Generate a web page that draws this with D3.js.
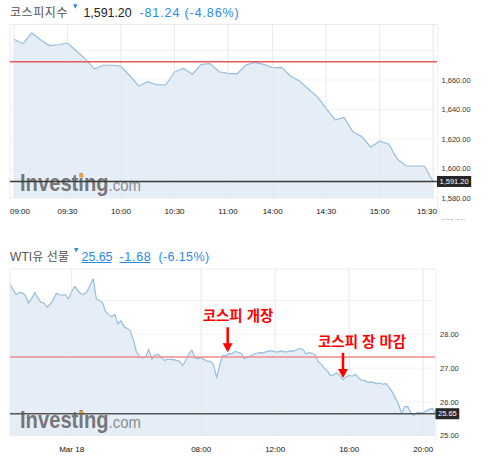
<!DOCTYPE html>
<html>
<head>
<meta charset="utf-8">
<script src="https://cdn.jsdelivr.net/npm/d3@7"></script>
<style>
    body { margin: 0; background: #fff; }
    svg { display: block; }
</style>
</head>
<body>
<svg id="chart" width="491" height="458"></svg>
<script>
// KOSPI intraday, 5 minute bars (the 11:25 - 13:55 block is not in the feed)
const kospiTimes = [
    '09:00', '09:05', '09:10', '09:15', '09:20', '09:25', '09:30', '09:35', '09:40', '09:45', '09:50', '09:55',
    '10:00', '10:05', '10:10', '10:15', '10:20', '10:25', '10:30', '10:35', '10:40', '10:45', '10:50', '10:55',
    '11:00', '11:05', '11:10', '11:15', '11:20',
    '14:00', '14:05', '14:10', '14:15', '14:20', '14:25', '14:30', '14:35', '14:40', '14:45', '14:50', '14:55',
    '15:00', '15:05', '15:10', '15:15', '15:20', '15:25', '15:30'
];
const kospiValues = [
    1687.6, 1684.6, 1691.9, 1687.1, 1683.3, 1683.9, 1685.1, 1679.7, 1674.2, 1667.5, 1670.0, 1670.0,
    1669.3, 1662.7, 1655.9, 1658.9, 1656.8, 1656.6, 1665.4, 1667.9, 1663.9, 1670.6, 1671.1, 1665.6,
    1664.5, 1664.1, 1670.2, 1672.0, 1670.6,
    1668.3, 1668.6, 1662.7, 1659.3, 1653.9, 1648.7, 1640.8, 1632.9, 1634.7, 1624.9, 1621.6, 1614.4,
    1618.6, 1616.6, 1606.2, 1601.7, 1601.7, 1601.7, 1591.2
];
const kospiTickLabels = ['09:00', '09:30', '10:00', '10:30', '11:00', '14:00', '14:30', '15:00', '15:30'];
const kospiYTicks = [1580, 1600, 1620, 1640, 1660];
const kospiLast = 1591.20;
const kospiChange = -81.24;
const kospiChangePct = -4.86;

// WTI futures, 10 minute bars from Mar 17 20:40 to Mar 18 20:40 (one hour break)
const wtiValues = [
    29.49, 29.32, 29.17, 29.24, 29.23, 29.15, 28.92, 29.05, 29.24, 29.08,
    28.95, 28.93, 28.80, 28.89, 29.02, 29.21, 29.17, 29.16, 29.17, 29.05,
    29.26, 29.42, 29.29, 29.20, 29.18, 29.27, 29.46, 29.64, 29.05, 29.00,
    28.94, 28.67, 28.59, 28.52, 28.59, 28.31, 28.40, 28.22, 28.18, 28.10,
    27.84, 27.48, 27.36, 27.30, 27.33, 27.56, 27.26, 27.39, 27.41, 27.33,
    27.23, 27.26, 27.26, 27.25, 27.23, 27.20, 27.07, 27.23, 27.42, 27.53,
    27.30, 27.28, 27.30, 27.25, 27.20, 27.20, 27.11, 26.71, 27.07, 27.38,
    27.36, 27.43, 27.42, 27.49, 27.47, 27.43, 27.28, 27.33, 27.36, 27.41,
    27.44, 27.46, 27.45, 27.48, 27.51, 27.51, 27.48, 27.48, 27.51, 27.48,
    27.49, 27.51, 27.50, 27.55, 27.58, 27.55, 27.42, 27.46, 27.44, 27.39,
    27.18, 27.11, 26.99, 26.91, 26.77, 26.81, 26.86, 26.78, 26.65, 26.74,
    26.79, 26.76, 26.82, 26.72, 26.64, 26.63, 26.58, 26.59, 26.57, 26.54,
    26.56, 26.52, 26.54, 26.43, 26.29, 26.12, 25.93, 25.66, 25.86, 25.86,
    25.67, 25.60, 25.69, 25.68, 25.68, 25.74, 25.78, 25.81, 25.65
];
const wtiTickLabels = ['Mar 18', '08:00', '12:00', '16:00', '20:00'];
const wtiTickBars = [20, 62, 86, 110, 134];
const wtiYTicks = [25, 26, 27, 28];
const wtiLast = 25.65;
const wtiChange = -1.68;
const wtiChangePct = -6.15;

const wtiNotes = ['코스피 개장', '코스피 장 마감'];
const wtiNoteBars = [70.6, 108];
const wtiNoteValues = [27.47, 26.71];

const latinFont = 'Arial, "Liberation Sans", sans-serif';
const krFont = 'Arial, "Liberation Sans", "Noto Sans CJK KR", sans-serif';
const blue = '#2a8ae6';
const lineColor = '#97bde0';
const areaColor = '#e5eef6';
const gridColor = '#f1f3f5';

const svg = d3.select('#chart');
const fmtSigned = (v) => (v < 0 ? '-' : '') + Math.abs(v).toFixed(2);

function textWidth(sel) {
    return sel.node().getComputedTextLength();
}

// stretch a text to a given width with letter spacing
function fitSpacing(sel, width) {
    const n = sel.text().length;
    const natural = textWidth(sel);
    if (n > 1) sel.style('letter-spacing', ((width - natural) / n).toFixed(2) + 'px');
}

// header row: name, blue marker, then the quote parts; widths follow the site's bitmap font
function drawHeader(cfg) {
    const g = svg.append('g');
    const name = g.append('text')
        .attr('x', 10)
        .attr('y', cfg.baseline)
        .attr('font-family', krFont)
        .attr('font-size', 12)
        .attr('fill', '#555')
        .text(cfg.name);
    fitSpacing(name, cfg.nameWidth);
    let cursor = 10 + cfg.nameWidth + 5;

    g.append('path')
        .attr('d', `M${cursor},${cfg.baseline - 12.5} h4.5 l-2.25,4.5 z`)
        .attr('fill', blue);
    cursor += 4.5 + cfg.markerGap;

    cfg.parts.forEach((p) => {
        const t = g.append('text')
            .attr('x', cursor)
            .attr('y', cfg.baseline)
            .attr('font-family', latinFont)
            .attr('font-size', 12.5)
            .attr('fill', p.color)
            .text(p.text);
        fitSpacing(t, p.width);
        if (p.underline) {
            g.append('line')
                .attr('x1', cursor).attr('x2', cursor + p.width - 1)
                .attr('y1', cfg.baseline + 2).attr('y2', cfg.baseline + 2)
                .attr('stroke', p.color)
                .attr('stroke-width', 1);
        }
        cursor += p.width + p.gap;
    });
}

function drawWatermark(g, left, baseline) {
    const wm = g.append('g');
    const text = wm.append('text')
        .attr('x', 0).attr('y', 0)
        .attr('font-family', latinFont)
        .attr('fill', '#6b6b6b');
    text.append('tspan')
        .attr('font-weight', 'bold')
        .attr('font-size', 23)
        .attr('fill-opacity', 0.92)
        .text('Investing');
    text.append('tspan')
        .attr('font-size', 17)
        .attr('fill', '#8c8c8c')
        .text('.com');
    const node = text.node();
    const sx = 121 / node.getComputedTextLength();
    const dotX = node.getSubStringLength(0, 6);
    wm.append('rect')
        .attr('x', dotX + 1.2).attr('y', -17)
        .attr('width', 4 / sx).attr('height', 4)
        .attr('fill', '#e8a33c');
    wm.attr('transform', `translate(${left},${baseline}) scale(${sx},1)`);
}

function drawPanel(cfg) {
    const g = svg.append('g');
    const x = d3.scaleLinear().domain([0, cfg.values.length - 1]).range(cfg.xRange);
    const y = d3.scaleLinear().domain([cfg.yTicks[0], cfg.yTicks[1]]).range(cfg.yRange);

    const clipId = 'clip-' + cfg.id;
    g.append('clipPath').attr('id', clipId)
        .append('rect')
        .attr('x', cfg.left).attr('y', cfg.top)
        .attr('width', cfg.right - cfg.left).attr('height', cfg.bottom - cfg.top);

    // grid
    const gridValues = d3.scaleLinear().domain([y.invert(cfg.bottom), y.invert(cfg.top)]).ticks(6);
    g.selectAll('.hgrid').data(gridValues).enter().append('line')
        .attr('x1', cfg.left).attr('x2', cfg.right)
        .attr('y1', (d) => y(d)).attr('y2', (d) => y(d))
        .attr('stroke', gridColor);
    g.selectAll('.vgrid').data(cfg.tickBars).enter().append('line')
        .attr('x1', (d) => x(d)).attr('x2', (d) => x(d))
        .attr('y1', cfg.top).attr('y2', cfg.bottom)
        .attr('stroke', gridColor);

    const plot = g.append('g').attr('clip-path', `url(#${clipId})`);

    plot.append('path').datum(cfg.values)
        .attr('fill', areaColor)
        .attr('d', d3.area().x((d, i) => x(i)).y0(cfg.bottom).y1((d) => y(d)));

    g.selectAll('.vgrid2').data(cfg.tickBars).enter().append('line')
        .attr('x1', (d) => x(d)).attr('x2', (d) => x(d))
        .attr('y1', cfg.top).attr('y2', cfg.bottom)
        .attr('stroke', '#dde6ee')
        .attr('stroke-opacity', 0.5);

    // frame
    g.append('line')
        .attr('x1', cfg.left).attr('x2', cfg.right)
        .attr('y1', cfg.top).attr('y2', cfg.top)
        .attr('stroke', '#e8ebee');
    g.append('line')
        .attr('x1', cfg.left).attr('x2', cfg.left)
        .attr('y1', cfg.top).attr('y2', cfg.bottom)
        .attr('stroke', '#e8ebee');
    g.append('line')
        .attr('x1', cfg.right + 0.5).attr('x2', cfg.right + 0.5)
        .attr('y1', cfg.top).attr('y2', cfg.axisBottom)
        .attr('stroke', '#eef0f2');

    drawWatermark(g, 20, cfg.bottom - 8);

    plot.append('path').datum(cfg.values)
        .attr('fill', 'none')
        .attr('stroke', lineColor)
        .attr('stroke-width', 1.2)
        .attr('stroke-linejoin', 'round')
        .attr('d', d3.line().x((d, i) => x(i)).y((d) => y(d)));

    // previous close and last price
    g.append('line')
        .attr('x1', cfg.left).attr('x2', cfg.right)
        .attr('y1', y(cfg.prevClose)).attr('y2', y(cfg.prevClose))
        .attr('stroke', cfg.prevColor)
        .attr('stroke-width', 1.5);
    g.append('line')
        .attr('x1', cfg.left).attr('x2', cfg.right)
        .attr('y1', y(cfg.last)).attr('y2', y(cfg.last))
        .attr('stroke', cfg.lastColor)
        .attr('stroke-width', 1.5);

    // y labels
    g.selectAll('.ylabel').data(cfg.yTicks).enter().append('text')
        .attr('x', cfg.right + 4.5)
        .attr('y', (d) => y(d) + 2.7)
        .attr('font-family', latinFont)
        .attr('font-size', 7.5)
        .attr('fill', '#333')
        .text((d) => cfg.yFormat(d));

    const box = g.append('g').attr('transform', `translate(${cfg.right},${y(cfg.last)})`);
    const boxRect = box.append('rect').attr('y', -5.5).attr('height', 11).attr('fill', '#262626');
    const boxText = box.append('text')
        .attr('x', 2.5).attr('y', 2.7)
        .attr('font-family', latinFont)
        .attr('font-size', 7.5)
        .attr('fill', '#fff')
        .text(cfg.yFormat(cfg.last));
    boxRect.attr('width', textWidth(boxText) + 5);

    // x labels, kept inside the plot width
    g.selectAll('.xlabel').data(cfg.tickLabels).enter().append('text')
        .attr('y', cfg.bottom + 15.8)
        .attr('font-family', latinFont)
        .attr('font-size', 8)
        .attr('fill', '#111')
        .text((d) => d)
        .each(function (d, i) {
            const w = this.getComputedTextLength();
            let left = x(cfg.tickBars[i]) - w / 2;
            left = Math.max(cfg.left, Math.min(cfg.right - w, left));
            d3.select(this).attr('x', left);
        });

    return { g, x, y };
}

drawHeader({
    baseline: 16.7,
    name: '코스피지수',
    nameWidth: 58,
    markerGap: 6,
    parts: [
        { text: d3.format(',.2f')(kospiLast), color: '#222', width: 48, gap: 8 },
        { text: `${fmtSigned(kospiChange)} (${fmtSigned(kospiChangePct)}%)`, color: blue, width: 100, gap: 0 }
    ]
});

const kospi = drawPanel({
    id: 'kospi',
    values: kospiValues,
    tickLabels: kospiTickLabels,
    tickBars: kospiTickLabels.map((t) => kospiTimes.indexOf(t)),
    yTicks: kospiYTicks,
    yFormat: d3.format(',.2f'),
    xRange: [14, 433.2],
    yRange: [198, 168.5],
    left: 10, right: 437, top: 24.5, bottom: 198.5, axisBottom: 219,
    prevClose: kospiLast - kospiChange,
    last: kospiLast,
    prevColor: '#e65a5a',
    lastColor: '#3a3a3a'
});

// label cut off by the frame under the first chart
svg.append('clipPath').attr('id', 'cut')
    .append('rect').attr('x', 437).attr('y', 210).attr('width', 54).attr('height', 9.5);
svg.append('text')
    .attr('clip-path', 'url(#cut)')
    .attr('x', 441.5).attr('y', 223.5)
    .attr('font-family', latinFont)
    .attr('font-size', 7.5)
    .attr('fill', '#333')
    .text('000.0%');

drawHeader({
    baseline: 260.5,
    name: 'WTI유 선물',
    nameWidth: 59,
    markerGap: 3,
    parts: [
        { text: wtiLast.toFixed(2), color: blue, underline: true, width: 31, gap: 7 },
        { text: fmtSigned(wtiChange), color: blue, underline: true, width: 32, gap: 7 },
        { text: `(${fmtSigned(wtiChangePct)}%)`, color: blue, width: 51, gap: 0 }
    ]
});

const wti = drawPanel({
    id: 'wti',
    values: wtiValues,
    tickLabels: wtiTickLabels,
    tickBars: wtiTickBars,
    yTicks: wtiYTicks,
    yFormat: d3.format('.2f'),
    xRange: [10, 435.5],
    yRange: [435.7, 401.9],
    left: 10, right: 435.5, top: 269, bottom: 436, axisBottom: 440,
    prevClose: wtiLast - wtiChange,
    last: wtiLast,
    prevColor: '#ef8c8c',
    lastColor: '#555'
});

// KOSPI open / close markers on the oil chart
wtiNotes.forEach((note, i) => {
    const ax = wti.x(wtiNoteBars[i]);
    const tip = wti.y(wtiNoteValues[i]);
    const g = wti.g.append('g').attr('transform', `translate(${ax},${tip})`);
    g.append('rect')
        .attr('x', -1.25).attr('y', -25)
        .attr('width', 2.5).attr('height', 17)
        .attr('fill', '#f00');
    g.append('path')
        .attr('d', 'M-5,-9 L5,-9 L0,0 Z')
        .attr('fill', '#f00');
    g.append('text')
        .attr('x', -25).attr('y', -31)
        .attr('font-family', krFont)
        .attr('font-weight', 'bold')
        .attr('font-size', 14.5)
        .attr('fill', '#f00')
        .text(note);
});
</script>
</body>
</html>
